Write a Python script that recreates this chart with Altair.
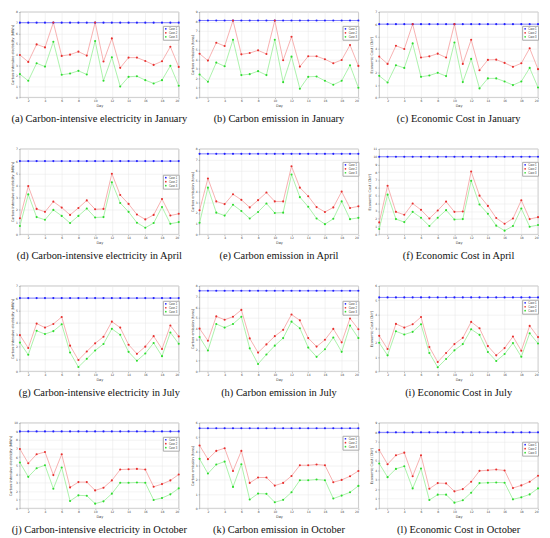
import altair as alt
import pandas as pd

DAYS = list(range(1, 21))
X_TICKS = list(range(2, 21, 2))
CASES = ["Case 1", "Case 2", "Case 3"]
LINE_COLORS = ["#6a6aff", "#f5a3a3", "#9df09d"]
MARK_COLORS = ["#1f1fff", "#e8302e", "#2fdc2f"]

CAPTIONS = [
    "(a) Carbon-intensive electricity in January",
    "(b) Carbon emission in January",
    "(c) Economic Cost in January",
    "(d) Carbon-intensive electricity in April",
    "(e) Carbon emission in April",
    "(f) Economic Cost in April",
    "(g) Carbon-intensive electricity in July",
    "(h) Carbon emission in July",
    "(i) Economic Cost in July",
    "(j) Carbon-intensive electricity in October",
    "(k) Carbon emission in October",
    "(l) Economic Cost in October",
]
YTITLES = [
    "Carbon-intensive electricity (MWh)",
    "Carbon emission (tons)",
    "Economic Cost (CNY)",
] * 4

YMAX = [8, 9, 7, 7, 8, 11, 7, 8, 6, 10, 6, 9]
BLUE = [7.0, 8.1, 6.0, 6.0, 7.54, 10.0, 6.0, 7.54, 5.19, 9.0, 5.62, 8.0]

RED_A = [3.97, 3.32, 4.96, 4.68, 7.01, 3.88, 4.00, 4.28, 3.91, 7.01, 3.35, 5.52, 2.76, 3.72, 3.72, 3.41, 3.04, 3.38, 4.74, 2.85]
GREEN_A = [2.17, 1.55, 3.19, 2.88, 5.21, 2.11, 2.23, 2.48, 2.14, 5.27, 1.55, 3.75, 1.02, 1.92, 1.98, 1.61, 1.30, 1.61, 2.95, 1.09]
RED_B = [4.60, 3.87, 5.76, 5.41, 8.09, 4.53, 4.67, 4.95, 4.57, 8.09, 3.91, 6.38, 3.24, 4.33, 4.33, 4.01, 3.59, 3.94, 5.51, 3.31]
GREEN_B = [2.41, 1.64, 3.66, 3.28, 6.07, 2.34, 2.44, 2.76, 2.34, 6.07, 1.60, 4.29, 0.91, 2.16, 2.20, 1.74, 1.33, 1.74, 3.38, 1.01]
RED_C = [3.34, 2.74, 4.23, 3.96, 6.00, 3.26, 3.36, 3.58, 3.26, 6.00, 2.74, 4.72, 2.22, 3.07, 3.09, 2.82, 2.50, 2.79, 4.02, 2.31]
GREEN_C = [1.76, 1.22, 2.63, 2.41, 4.42, 1.68, 1.79, 2.01, 1.74, 4.50, 1.25, 3.15, 0.73, 1.55, 1.55, 1.30, 1.00, 1.30, 2.41, 0.81]
RED_D = [1.32, 3.95, 2.08, 1.84, 2.68, 2.19, 1.59, 2.16, 2.78, 2.05, 2.08, 4.97, 3.22, 2.49, 1.62, 1.22, 1.59, 2.89, 1.54, 1.68]
GREEN_D = [0.68, 3.27, 1.41, 1.19, 2.00, 1.51, 0.92, 1.51, 2.11, 1.38, 1.41, 4.27, 2.57, 1.84, 0.95, 0.54, 0.92, 2.24, 0.86, 1.00]
RED_E = [2.25, 5.23, 3.08, 2.83, 3.75, 3.23, 2.52, 3.20, 3.91, 3.08, 3.08, 6.37, 4.37, 3.57, 2.55, 2.09, 2.52, 4.00, 2.46, 2.62]
GREEN_E = [1.08, 4.37, 2.03, 1.75, 2.77, 2.18, 1.48, 2.09, 2.89, 2.00, 2.03, 5.60, 3.48, 2.58, 1.48, 0.95, 1.45, 3.08, 1.42, 1.54]
RED_F = [1.53, 6.26, 2.89, 2.51, 3.96, 3.15, 2.04, 3.06, 4.21, 2.89, 2.94, 8.09, 4.98, 3.66, 2.09, 1.36, 2.04, 4.38, 1.96, 2.21]
GREEN_F = [0.68, 5.11, 1.96, 1.57, 2.89, 2.13, 1.06, 2.13, 3.11, 1.91, 1.96, 6.89, 3.83, 2.64, 1.11, 0.47, 1.06, 3.32, 0.98, 1.19]
RED_G = [2.96, 1.91, 3.91, 3.58, 3.88, 4.45, 2.10, 0.92, 1.62, 2.29, 2.83, 4.07, 3.58, 2.18, 1.43, 2.02, 2.88, 1.83, 3.75, 2.86]
GREEN_G = [2.35, 1.35, 3.32, 3.05, 3.29, 3.85, 1.54, 0.35, 1.02, 1.70, 2.24, 3.48, 2.99, 1.59, 0.86, 1.46, 2.32, 1.24, 3.18, 2.26]
RED_H = [4.00, 2.86, 5.14, 4.83, 5.11, 5.75, 3.08, 1.75, 2.52, 3.29, 3.88, 5.32, 4.77, 3.11, 2.31, 2.95, 3.97, 2.71, 4.95, 3.94]
GREEN_H = [3.20, 1.94, 4.43, 4.09, 4.43, 5.11, 2.15, 0.68, 1.57, 2.40, 3.11, 4.65, 4.03, 2.22, 1.35, 2.06, 3.17, 1.82, 4.28, 3.11]
RED_I = [2.49, 1.56, 3.33, 3.07, 3.30, 3.81, 1.70, 0.65, 1.28, 1.91, 2.35, 3.47, 3.02, 1.77, 1.12, 1.63, 2.44, 1.44, 3.19, 2.40]
GREEN_I = [2.00, 1.12, 2.81, 2.58, 2.77, 3.30, 1.28, 0.28, 0.86, 1.47, 1.91, 2.95, 2.56, 1.35, 0.72, 1.21, 1.98, 1.02, 2.67, 1.95]
RED_J = [6.94, 5.27, 6.32, 6.59, 3.88, 6.32, 2.44, 3.06, 3.06, 2.09, 2.40, 3.26, 4.53, 4.57, 4.61, 4.53, 2.52, 2.83, 3.26, 3.95]
GREEN_J = [5.35, 3.68, 4.69, 5.04, 2.29, 4.77, 0.85, 1.51, 1.47, 0.54, 0.81, 1.71, 2.98, 2.98, 3.02, 2.98, 0.97, 1.20, 1.63, 2.33]
RED_K = [4.41, 3.45, 4.03, 4.22, 2.62, 4.03, 1.78, 2.16, 2.16, 1.59, 1.78, 2.27, 3.02, 3.02, 3.07, 3.02, 1.83, 1.99, 2.25, 2.62]
GREEN_K = [3.47, 2.44, 3.07, 3.28, 1.50, 3.09, 0.61, 1.03, 1.01, 0.42, 0.59, 1.12, 1.97, 1.97, 2.02, 1.97, 0.68, 0.89, 1.12, 1.57]
RED_L = [6.14, 4.64, 5.58, 5.86, 3.38, 5.58, 2.06, 2.65, 2.62, 1.78, 2.02, 2.79, 3.94, 4.01, 4.08, 3.98, 2.13, 2.41, 2.79, 3.42]
GREEN_L = [4.71, 3.28, 4.15, 4.43, 2.09, 4.19, 0.87, 1.43, 1.43, 0.59, 0.84, 1.64, 2.65, 2.69, 2.72, 2.69, 0.94, 1.15, 1.46, 2.09]

RED = [RED_A, RED_B, RED_C, RED_D, RED_E, RED_F, RED_G, RED_H, RED_I, RED_J, RED_K, RED_L]
GREEN = [GREEN_A, GREEN_B, GREEN_C, GREEN_D, GREEN_E, GREEN_F, GREEN_G, GREEN_H, GREEN_I, GREEN_J, GREEN_K, GREEN_L]

LEGEND_Y = [14, 14, 14, 26, 13, 13, 15, 15, 14, 14, 13, 19]

W, H = 160, 86


def panel(i):
    rows = []
    for k, d in enumerate(DAYS):
        for c, v in zip(CASES, [BLUE[i], RED[i][k], GREEN[i][k]]):
            rows.append({"day": d, "value": v, "case": c})
    df = pd.DataFrame(rows)
    x = alt.X("day:Q", scale=alt.Scale(domain=[1, 20], nice=False, zero=False),
              axis=alt.Axis(values=X_TICKS, title="Day"))
    y = alt.Y("value:Q", scale=alt.Scale(domain=[0, YMAX[i]], nice=False),
              axis=alt.Axis(values=list(range(YMAX[i] + 1)), title=YTITLES[i]))
    base = alt.Chart(df)
    lines = [
        base.transform_filter(alt.datum.case == c).mark_line(strokeWidth=0.85, color=col).encode(x=x, y=y)
        for c, col in zip(CASES, LINE_COLORS)
    ]
    leg = alt.Legend(
        title=None, orient="none", legendX=W - 16, legendY=LEGEND_Y[i],
        labelFontSize=2.6, symbolSize=3, rowPadding=0, padding=1,
        strokeColor="#aaaaaa", fillColor="white", labelOffset=1.2, symbolType="circle",
        labelColor="#333333",
    )
    pts = base.mark_point(size=4.5, opacity=1, filled=True).encode(
        x=x, y=y,
        color=alt.Color("case:N", scale=alt.Scale(domain=CASES, range=MARK_COLORS), legend=leg),
    )
    return alt.layer(*lines, pts).properties(
        width=W, height=H,
        title=alt.TitleParams(CAPTIONS[i], orient="bottom", anchor="middle"),
    )


chart = alt.concat(
    *[panel(i) for i in range(12)],
    columns=3,
    spacing=alt.RowColnumber(row=52, column=21),
    bounds="flush",
).resolve_scale(
    color="independent", x="independent", y="independent"
).properties(
    padding={"left": 0, "top": 0, "right": 2, "bottom": 0}
).configure_axis(
    labelFontSize=3, titleFontSize=3.5, labelFont="DejaVu Sans", titleFont="DejaVu Sans",
    titleFontWeight="normal", gridColor="#e6e6e6", gridWidth=0.5,
    tickSize=1.5, tickColor="#888888", tickWidth=0.5, domain=False,
    labelColor="#444444", titleColor="#444444", labelPadding=1, titlePadding=1,
).configure_view(
    stroke="#999999", strokeWidth=0.6
).configure_title(
    font="Liberation Serif", fontSize=10.5, fontWeight="normal", color="#111111", offset=7
)

chart.save("out.html", embed_options={"renderer": "svg", "actions": False})
